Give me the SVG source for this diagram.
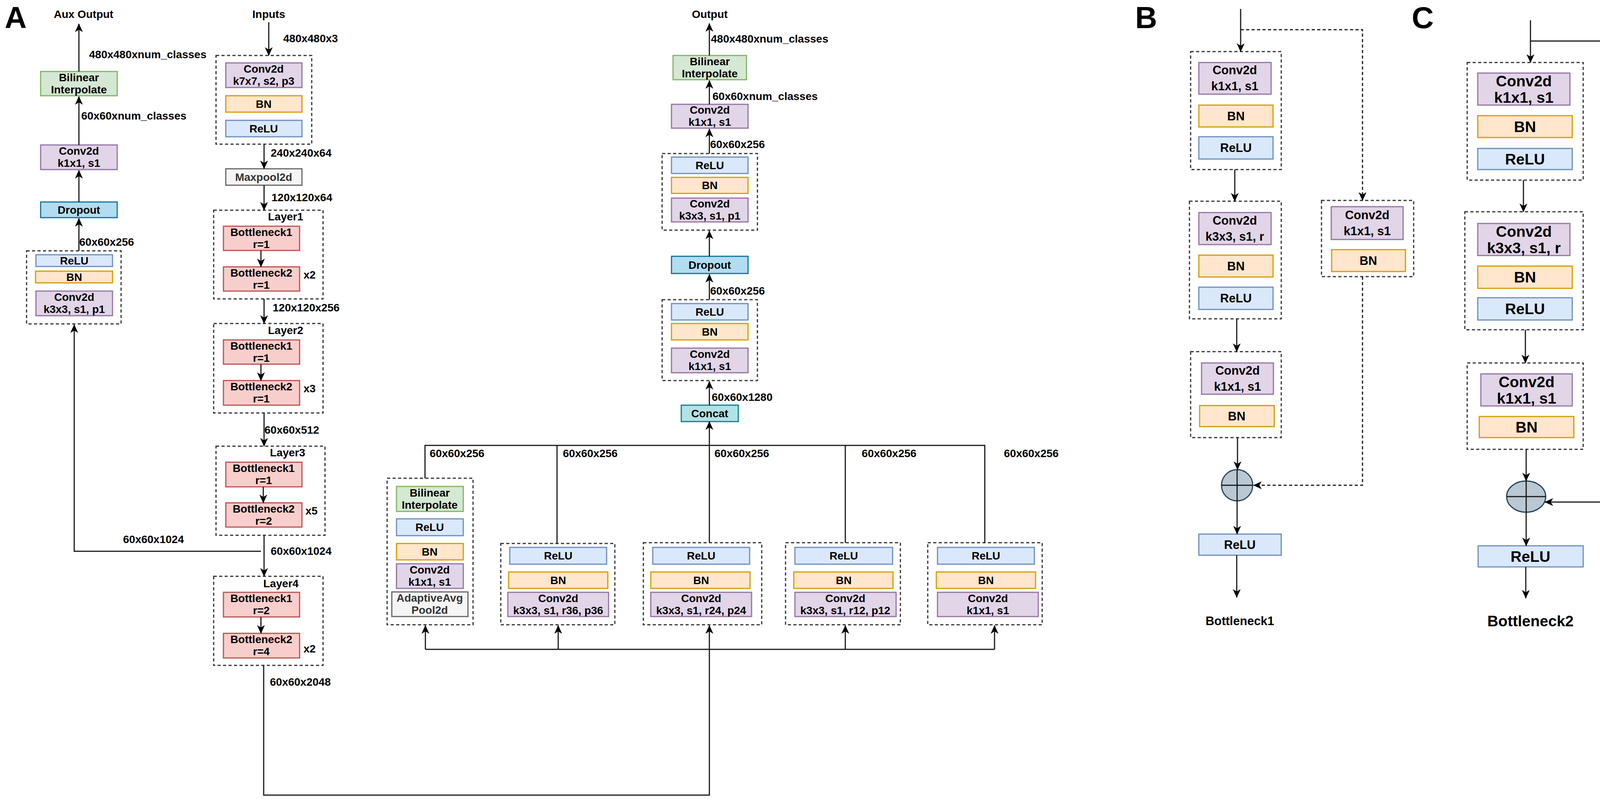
<svg xmlns="http://www.w3.org/2000/svg" width="4328" height="2045" viewBox="0 0 4328 2045">
<style>
text{font-family:"Liberation Sans",Arial,Helvetica,sans-serif;font-weight:bold;font-size:28px;fill:#000}
.m{text-anchor:middle}
.g{fill:#333}
.b31{font-size:31px}
.c39{font-size:39px}
.big{font-size:78px}
rect{stroke-width:3}
.pu{fill:#e1d5e7;stroke:#9673a6}
.or{fill:#ffe6cc;stroke:#d79b00}
.bl{fill:#dae8fc;stroke:#6c8ebf}
.gr{fill:#d5e8d4;stroke:#82b366}
.rd{fill:#f8cecc;stroke:#b85450}
.gy{fill:#f5f5f5;stroke:#666666}
.dp{fill:#b1ddf0;stroke:#10739e}
.cc{fill:#b0e3e6;stroke:#0e8088}
.dash{fill:none;stroke:#333;stroke-width:3;stroke-dasharray:8 6}
.ln{fill:none;stroke:#1a1a1a;stroke-width:3}
.dl{fill:none;stroke:#1a1a1a;stroke-width:3;stroke-dasharray:8 6}
.ar{marker-end:url(#ah)}
.sum{fill:#bac8d3;stroke:#23445d;stroke-width:3}
</style>
<defs>
<marker id="ah" markerUnits="userSpaceOnUse" markerWidth="22" markerHeight="20" viewBox="0 0 22 20" refX="21" refY="10" orient="auto">
<path d="M0,0 L22,10 L0,20 L6,10 Z" fill="#000"/>
</marker>
</defs>
<rect width="4328" height="2045" fill="#fff" style="stroke:none"/>

<g id="panel-labels">
<text class="big" x="12" y="72">A</text>
<text class="big" x="2906" y="72">B</text>
<text class="big" x="3614" y="72">C</text>
</g>

<!-- Aux branch -->
<g id="aux-output"><text class="m" x="214" y="46">Aux Output</text></g>
<g id="aux-bilinear"><rect class="gr" x="104" y="183" width="196" height="62"/><text class="m" x="202" y="208">Bilinear</text><text class="m" x="202" y="239">Interpolate</text></g>
<g id="aux-conv"><rect class="pu" x="104" y="371" width="196" height="63"/><text class="m" x="202" y="396">Conv2d</text><text class="m" x="202" y="427">k1x1, s1</text></g>
<g id="aux-dropout"><rect class="dp" x="104" y="517" width="196" height="40"/><text class="m" x="202" y="547">Dropout</text></g>
<g id="aux-head"><rect class="dash" x="68" y="642" width="242" height="187"/>
<rect class="bl" x="92" y="652" width="196" height="30"/><text class="m" x="190" y="677">ReLU</text>
<rect class="or" x="91" y="694" width="197" height="30"/><text class="m" x="190" y="719">BN</text>
<rect class="pu" x="92" y="745" width="196" height="63"/><text class="m" x="190" y="770">Conv2d</text><text class="m" x="190" y="801">k3x3, s1, p1</text></g>

<!-- Backbone -->
<g id="inputs"><text class="m" x="688" y="46">Inputs</text></g>
<g id="stem"><rect class="dash" x="553" y="142" width="245" height="227"/>
<rect class="pu" x="578" y="161" width="195" height="63"/><text class="m" x="675" y="186">Conv2d</text><text class="m" x="675" y="217">k7x7, s2, p3</text>
<rect class="or" x="578" y="245" width="195" height="42"/><text class="m" x="675" y="276">BN</text>
<rect class="bl" x="578" y="308" width="195" height="42"/><text class="m" x="675" y="339">ReLU</text></g>
<g id="maxpool"><rect class="gy" x="578" y="432" width="195" height="42"/><text class="m g" x="675" y="463">Maxpool2d</text></g>
<g id="layer1"><rect class="dash" x="547" y="538" width="280" height="227"/><text x="686" y="564">Layer1</text>
<rect class="rd" x="572" y="579" width="195" height="62"/><text class="m" x="669" y="604">Bottleneck1</text><text class="m" x="669" y="635">r=1</text>
<rect class="rd" x="572" y="683" width="195" height="62"/><text class="m" x="669" y="708">Bottleneck2</text><text class="m" x="669" y="739">r=1</text>
<text x="777" y="713">x2</text></g>
<g id="layer2"><rect class="dash" x="547" y="828" width="280" height="229"/><text x="686" y="855">Layer2</text>
<rect class="rd" x="572" y="870" width="195" height="62"/><text class="m" x="669" y="895">Bottleneck1</text><text class="m" x="669" y="926">r=1</text>
<rect class="rd" x="572" y="974" width="195" height="63"/><text class="m" x="669" y="999">Bottleneck2</text><text class="m" x="669" y="1030">r=1</text>
<text x="777" y="1004">x3</text></g>
<g id="layer3"><rect class="dash" x="553" y="1142" width="279" height="228"/><text x="691" y="1168">Layer3</text>
<rect class="rd" x="578" y="1183" width="195" height="63"/><text class="m" x="675" y="1208">Bottleneck1</text><text class="m" x="675" y="1239">r=1</text>
<rect class="rd" x="578" y="1287" width="195" height="62"/><text class="m" x="675" y="1312">Bottleneck2</text><text class="m" x="675" y="1343">r=2</text>
<text x="782" y="1317">x5</text></g>
<g id="layer4"><rect class="dash" x="547" y="1475" width="280" height="228"/><text x="674" y="1503">Layer4</text>
<rect class="rd" x="572" y="1516" width="195" height="63"/><text class="m" x="669" y="1541">Bottleneck1</text><text class="m" x="669" y="1572">r=2</text>
<rect class="rd" x="572" y="1621" width="195" height="63"/><text class="m" x="669" y="1646">Bottleneck2</text><text class="m" x="669" y="1677">r=4</text>
<text x="777" y="1670">x2</text></g>

<!-- ASPP branches -->
<g id="aspp-pool"><rect class="dash" x="991" y="1224" width="220" height="375"/>
<rect class="gr" x="1015" y="1245" width="171" height="64"/><text class="m" x="1100" y="1271">Bilinear</text><text class="m" x="1100" y="1302">Interpolate</text>
<rect class="bl" x="1015" y="1328" width="171" height="43"/><text class="m" x="1100" y="1359">ReLU</text>
<rect class="or" x="1015" y="1391" width="171" height="42"/><text class="m" x="1100" y="1422">BN</text>
<rect class="pu" x="1015" y="1443" width="171" height="63"/><text class="m" x="1100" y="1468">Conv2d</text><text class="m" x="1100" y="1499">k1x1, s1</text>
<rect class="gy" x="1003" y="1515" width="195" height="63"/><text class="m g" x="1100" y="1540">AdaptiveAvg</text><text class="m g" x="1100" y="1571">Pool2d</text></g>
<g id="aspp-r36"><rect class="dash" x="1282" y="1391" width="292" height="208"/>
<rect class="bl" x="1305" y="1401" width="248" height="43"/><text class="m" x="1429" y="1432">ReLU</text>
<rect class="or" x="1302" y="1464" width="254" height="42"/><text class="m" x="1429" y="1495">BN</text>
<rect class="pu" x="1300" y="1516" width="258" height="62"/><text class="m" x="1429" y="1541">Conv2d</text><text class="m" x="1429" y="1572">k3x3, s1, r36, p36</text></g>
<g id="aspp-r24"><rect class="dash" x="1647" y="1389" width="303" height="210"/>
<rect class="bl" x="1671" y="1401" width="248" height="43"/><text class="m" x="1795" y="1432">ReLU</text>
<rect class="or" x="1666" y="1464" width="254" height="42"/><text class="m" x="1795" y="1495">BN</text>
<rect class="pu" x="1666" y="1516" width="258" height="62"/><text class="m" x="1795" y="1541">Conv2d</text><text class="m" x="1795" y="1572">k3x3, s1, r24, p24</text></g>
<g id="aspp-r12"><rect class="dash" x="2011" y="1389" width="294" height="210"/>
<rect class="bl" x="2035" y="1401" width="250" height="43"/><text class="m" x="2160" y="1432">ReLU</text>
<rect class="or" x="2032" y="1464" width="254" height="42"/><text class="m" x="2160" y="1495">BN</text>
<rect class="pu" x="2035" y="1516" width="259" height="62"/><text class="m" x="2164" y="1541">Conv2d</text><text class="m" x="2164" y="1572">k3x3, s1, r12, p12</text></g>
<g id="aspp-1x1"><rect class="dash" x="2375" y="1389" width="293" height="210"/>
<rect class="bl" x="2400" y="1401" width="248" height="43"/><text class="m" x="2524" y="1432">ReLU</text>
<rect class="or" x="2397" y="1464" width="254" height="42"/><text class="m" x="2524" y="1495">BN</text>
<rect class="pu" x="2400" y="1516" width="258" height="62"/><text class="m" x="2529" y="1541">Conv2d</text><text class="m" x="2529" y="1572">k1x1, s1</text></g>

<!-- Main head -->
<g id="output"><text class="m" x="1817" y="46">Output</text></g>
<g id="head-bilinear"><rect class="gr" x="1723" y="142" width="188" height="62"/><text class="m" x="1817" y="167">Bilinear</text><text class="m" x="1817" y="198">Interpolate</text></g>
<g id="head-conv"><rect class="pu" x="1719" y="267" width="196" height="61"/><text class="m" x="1817" y="291">Conv2d</text><text class="m" x="1817" y="322">k1x1, s1</text></g>
<g id="head-block1"><rect class="dash" x="1695" y="393" width="244" height="196"/>
<rect class="bl" x="1719" y="402" width="196" height="42"/><text class="m" x="1817" y="433">ReLU</text>
<rect class="or" x="1719" y="454" width="196" height="41"/><text class="m" x="1817" y="484">BN</text>
<rect class="pu" x="1719" y="507" width="196" height="61"/><text class="m" x="1817" y="531">Conv2d</text><text class="m" x="1817" y="562">k3x3, s1, p1</text></g>
<g id="head-dropout"><rect class="dp" x="1719" y="656" width="196" height="44"/><text class="m" x="1817" y="688">Dropout</text></g>
<g id="head-block2"><rect class="dash" x="1695" y="767" width="244" height="207"/>
<rect class="bl" x="1719" y="777" width="196" height="42"/><text class="m" x="1817" y="808">ReLU</text>
<rect class="or" x="1719" y="828" width="196" height="42"/><text class="m" x="1817" y="859">BN</text>
<rect class="pu" x="1719" y="891" width="196" height="63"/><text class="m" x="1817" y="916">Conv2d</text><text class="m" x="1817" y="947">k1x1, s1</text></g>
<g id="concat"><rect class="cc" x="1744" y="1037" width="146" height="42"/><text class="m" x="1817" y="1068">Concat</text></g>

<!-- Panel B -->
<g id="b-block1"><rect class="dash" x="3048" y="132" width="232" height="302"/>
<rect class="pu" x="3069" y="160" width="185" height="81"/><text class="m b31" x="3161" y="190">Conv2d</text><text class="m b31" x="3161" y="231">k1x1, s1</text>
<rect class="or" x="3069" y="269" width="190" height="56"/><text class="m b31" x="3164" y="308">BN</text>
<rect class="bl" x="3069" y="350" width="190" height="57"/><text class="m b31" x="3164" y="389">ReLU</text></g>
<g id="b-block2"><rect class="dash" x="3045" y="515" width="235" height="301"/>
<rect class="pu" x="3069" y="544" width="185" height="82"/><text class="m b31" x="3161" y="575">Conv2d</text><text class="m b31" x="3161" y="616">k3x3, s1, r</text>
<rect class="or" x="3069" y="653" width="190" height="56"/><text class="m b31" x="3164" y="692">BN</text>
<rect class="bl" x="3069" y="735" width="190" height="57"/><text class="m b31" x="3164" y="774">ReLU</text></g>
<g id="b-block3"><rect class="dash" x="3048" y="900" width="232" height="220"/>
<rect class="pu" x="3076" y="929" width="184" height="80"/><text class="m b31" x="3168" y="959">Conv2d</text><text class="m b31" x="3168" y="1000">k1x1, s1</text>
<rect class="or" x="3071" y="1038" width="191" height="54"/><text class="m b31" x="3166" y="1076">BN</text></g>
<g id="b-downsample"><rect class="dash" x="3383" y="513" width="236" height="195"/>
<rect class="pu" x="3408" y="529" width="184" height="84"/><text class="m b31" x="3500" y="561">Conv2d</text><text class="m b31" x="3500" y="602">k1x1, s1</text>
<rect class="or" x="3409" y="639" width="189" height="56"/><text class="m b31" x="3503" y="678">BN</text></g>
<g id="b-sum"><circle class="sum" cx="3167" cy="1242" r="40"/><line class="ln" x1="3127" y1="1242" x2="3207" y2="1242"/></g>
<g id="b-relu"><rect class="bl" x="3069" y="1367" width="211" height="54"/><text class="m b31" x="3174" y="1405">ReLU</text></g>
<g id="b-title"><text class="m b31" x="3174" y="1600">Bottleneck1</text></g>

<!-- Panel C -->
<g id="c-block1"><rect class="dash" x="3756" y="160" width="297" height="301"/>
<rect class="pu" x="3783" y="187" width="236" height="82"/><text class="m c39" x="3901" y="221">Conv2d</text><text class="m c39" x="3901" y="263">k1x1, s1</text>
<rect class="or" x="3783" y="296" width="242" height="56"/><text class="m c39" x="3904" y="338">BN</text>
<rect class="bl" x="3783" y="380" width="242" height="54"/><text class="m c39" x="3904" y="421">ReLU</text></g>
<g id="c-block2"><rect class="dash" x="3750" y="542" width="303" height="302"/>
<rect class="pu" x="3783" y="572" width="236" height="82"/><text class="m c39" x="3901" y="606">Conv2d</text><text class="m c39" x="3901" y="648">k3x3, s1, r</text>
<rect class="or" x="3783" y="681" width="242" height="57"/><text class="m c39" x="3904" y="723">BN</text>
<rect class="bl" x="3783" y="762" width="242" height="57"/><text class="m c39" x="3904" y="804">ReLU</text></g>
<g id="c-block3"><rect class="dash" x="3756" y="929" width="297" height="221"/>
<rect class="pu" x="3791" y="957" width="234" height="82"/><text class="m c39" x="3908" y="991">Conv2d</text><text class="m c39" x="3908" y="1033">k1x1, s1</text>
<rect class="or" x="3787" y="1066" width="242" height="54"/><text class="m c39" x="3908" y="1107">BN</text></g>
<g id="c-sum"><ellipse class="sum" cx="3907" cy="1271" rx="50" ry="40"/><line class="ln" x1="3857" y1="1271" x2="3957" y2="1271"/></g>
<g id="c-relu"><rect class="bl" x="3784" y="1397" width="269" height="54"/><text class="m c39" x="3918" y="1438">ReLU</text></g>
<g id="c-title"><text class="m c39" x="3918" y="1603">Bottleneck2</text></g>

<!-- Edge labels -->
<g id="edge-labels">
<text x="228" y="149">480x480xnum_classes</text>
<text x="208" y="306">60x60xnum_classes</text>
<text x="203" y="629">60x60x256</text>
<text x="315" y="1390">60x60x1024</text>
<text x="725" y="108">480x480x3</text>
<text x="693" y="401">240x240x64</text>
<text x="695" y="515">120x120x64</text>
<text x="698" y="797">120x120x256</text>
<text x="677" y="1110">60x60x512</text>
<text x="693" y="1420">60x60x1024</text>
<text x="691" y="1755">60x60x2048</text>
<text x="1820" y="109">480x480xnum_classes</text>
<text x="1824" y="256">60x60xnum_classes</text>
<text x="1818" y="379">60x60x256</text>
<text x="1818" y="754">60x60x256</text>
<text x="1822" y="1026">60x60x1280</text>
<text x="1100" y="1170">60x60x256</text>
<text x="1441" y="1170">60x60x256</text>
<text x="1829" y="1170">60x60x256</text>
<text x="2206" y="1170">60x60x256</text>
<text x="2570" y="1170">60x60x256</text>
</g>

<g id="connectors">
<!-- aux -->
<path class="ln ar" d="M202,183 V61"/>
<path class="ln ar" d="M202,371 V247"/>
<path class="ln ar" d="M202,517 V436"/>
<path class="ln ar" d="M202,642 V559"/>
<path class="ln ar" d="M668,1411 H190 V831"/>
<!-- backbone -->
<path class="ln ar" d="M688,57 V142"/>
<path class="ln ar" d="M676,369 V432"/>
<path class="ln ar" d="M676,474 V538"/>
<path class="ln ar" d="M668,641 V683"/>
<path class="ln ar" d="M676,765 V828"/>
<path class="ln ar" d="M668,932 V974"/>
<path class="ln ar" d="M676,1057 V1142"/>
<path class="ln ar" d="M674,1246 V1287"/>
<path class="ln ar" d="M676,1370 V1475"/>
<path class="ln ar" d="M668,1579 V1621"/>
<path class="ln ar" d="M675,1703 V2035 H1816 V1601"/>
<!-- ASPP inputs -->
<path class="ln" d="M1089,1662 H2546"/>
<path class="ln ar" d="M1089,1662 V1601"/>
<path class="ln ar" d="M1429,1662 V1601"/>
<path class="ln ar" d="M2164,1662 V1601"/>
<path class="ln ar" d="M2546,1662 V1601"/>
<!-- ASPP outputs -->
<path class="ln" d="M1088,1224 V1140 H2521 V1389"/>
<path class="ln" d="M1426,1140 V1391"/>
<path class="ln" d="M2164,1140 V1389"/>
<path class="ln ar" d="M1816,1389 V1079"/>
<!-- head -->
<path class="ln ar" d="M1816,1037 V976"/>
<path class="ln ar" d="M1816,767 V702"/>
<path class="ln ar" d="M1816,656 V591"/>
<path class="ln ar" d="M1816,393 V330"/>
<path class="ln ar" d="M1816,267 V206"/>
<path class="ln ar" d="M1816,142 V60"/>
<!-- panel B -->
<path class="ln ar" d="M3176,23 V132"/>
<path class="dl ar" d="M3176,76 H3488 V513"/>
<path class="dl ar" d="M3488,708 V1242 H3209"/>
<path class="ln ar" d="M3161,434 V515"/>
<path class="ln ar" d="M3166,816 V900"/>
<path class="ln ar" d="M3168,1120 V1202"/>
<path class="ln ar" d="M3167,1202 V1367"/>
<path class="ln ar" d="M3166,1421 V1529"/>
<!-- panel C -->
<path class="ln ar" d="M3918,52 V160"/>
<path class="ln ar" d="M3918,105 H4313 V1285 H3955"/>
<path class="ln ar" d="M3900,461 V542"/>
<path class="ln ar" d="M3905,844 V929"/>
<path class="ln ar" d="M3907,1150 V1231"/>
<path class="ln ar" d="M3907,1231 V1397"/>
<path class="ln ar" d="M3906,1451 V1531"/>
</g>
</svg>
